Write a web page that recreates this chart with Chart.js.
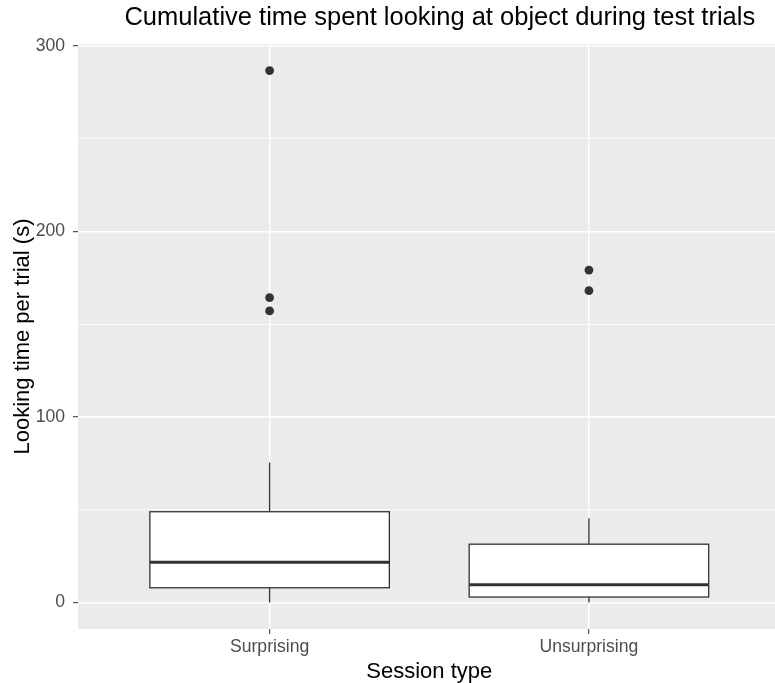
<!DOCTYPE html>
<html>
<head>
<meta charset="utf-8">
<script src="https://cdn.jsdelivr.net/npm/chart.js@4.4.0/dist/chart.umd.min.js"></script>
<style>
  html, body { margin: 0; padding: 0; background: #fff; overflow: hidden; }
  /* the original plot is cropped on the right, so the canvas runs past the window */
  #wrap { width: 806px; height: 683px; }
</style>
</head>
<body>
<div id="wrap"><canvas id="mycanvas"></canvas></div>
<script>
// session types and box statistics
var categories = ['Surprising', 'Unsurprising'];
var whiskerLow = [0, 0];
var q1 = [7.9, 2.9];
var median = [21.7, 9.5];
var q3 = [48.9, 31.4];
var whiskerHigh = [75.5, 45.4];
var outliersSurprising = [286.8, 164.4, 157.2];
var outliersUnsurprising = [179.2, 168.1];
var yTicks = [0, 50, 100, 150, 200, 250, 300];

var dataMin = 0, dataMax = 286.8;
var yPad = (dataMax - dataMin) * 0.05;

var outlierPoints = [];
outliersSurprising.forEach(function(v) { outlierPoints.push({x: 1, y: v}); });
outliersUnsurprising.forEach(function(v) { outlierPoints.push({x: 2, y: v}); });

var panelBg = {
  id: 'panelBg',
  beforeDraw: function(chart) {
    var a = chart.chartArea, c = chart.ctx;
    c.save();
    c.fillStyle = '#EBEBEB';
    c.fillRect(a.left, a.top, a.right - a.left, a.bottom - a.top);
    c.restore();
  }
};

// box + whiskers + median, placed with the chart's scales
var boxes = {
  id: 'boxes',
  beforeDatasetsDraw: function(chart) {
    var c = chart.ctx, x = chart.scales.x, y = chart.scales.y;
    c.save();
    c.strokeStyle = '#333333';
    for (var i = 0; i < categories.length; i++) {
      var cx = x.getPixelForValue(i + 1);
      var l = x.getPixelForValue(i + 1 - 0.375);
      var r = x.getPixelForValue(i + 1 + 0.375);
      var yq1 = y.getPixelForValue(q1[i]);
      var yq3 = y.getPixelForValue(q3[i]);
      c.lineWidth = 1.3;
      c.beginPath();
      c.moveTo(cx, y.getPixelForValue(whiskerHigh[i])); c.lineTo(cx, yq3);
      c.moveTo(cx, yq1); c.lineTo(cx, y.getPixelForValue(whiskerLow[i]));
      c.stroke();
      c.fillStyle = '#ffffff';
      c.fillRect(l, yq3, r - l, yq1 - yq3);
      c.strokeRect(l, yq3, r - l, yq1 - yq3);
      c.lineWidth = 3;
      c.beginPath();
      var ym = y.getPixelForValue(median[i]);
      c.moveTo(l, ym); c.lineTo(r, ym);
      c.stroke();
    }
    c.restore();
  }
};

// x title sits in the middle of the discrete range (1.5), like ggplot
var xTitle = {
  id: 'xTitle',
  afterDraw: function(chart) {
    var c = chart.ctx, x = chart.scales.x;
    c.save();
    c.fillStyle = '#000';
    c.font = '22px "Liberation Sans"';
    c.textAlign = 'center';
    c.textBaseline = 'middle';
    c.fillText('Session type', x.getPixelForValue(1.5), x.bottom - 11);
    c.restore();
  }
};

var ctx = document.getElementById('mycanvas');
var chart = new Chart(ctx, {
  type: 'scatter',
  data: {
    datasets: [{
      label: 'outliers',
      data: outlierPoints,
      backgroundColor: '#333333',
      borderWidth: 0,
      pointRadius: 4.4,
      pointHoverRadius: 4.4
    }]
  },
  plugins: [panelBg, boxes, xTitle],
  options: {
    responsive: true,
    maintainAspectRatio: false,
    animation: false,
    layout: { padding: 0 },
    plugins: {
      legend: { display: false },
      tooltip: { enabled: false },
      title: {
        display: true,
        fullSize: false,
        text: 'Cumulative time spent looking at object during test trials',
        color: '#000',
        font: { family: 'Liberation Sans', size: 25.5, weight: 'normal', lineHeight: 1.2 },
        padding: { top: 3, bottom: 10.4 }
      }
    },
    scales: {
      x: {
        type: 'linear',
        min: 0.4,
        max: 2.666,
        afterBuildTicks: function(s) { s.ticks = [{value: 1}, {value: 2}]; },
        afterFit: function(s) { s.height = 54; s.paddingLeft = 0; s.paddingRight = 0; },
        ticks: {
          color: '#4D4D4D',
          font: { family: 'Liberation Sans', size: 17.6 },
          padding: 3,
          maxRotation: 0,
          callback: function(v) { return categories[v - 1]; }
        },
        grid: { color: '#ffffff', lineWidth: 1.4, tickColor: '#333333', tickLength: 5, tickWidth: 1 },
        border: { display: false }
      },
      y: {
        min: dataMin - yPad,
        max: dataMax + yPad,
        afterBuildTicks: function(s) { s.ticks = yTicks.map(function(v) { return {value: v}; }); },
        afterFit: function(s) { s.width = 78; s.paddingTop = 0; s.paddingBottom = 0; },
        ticks: {
          color: '#4D4D4D',
          font: { family: 'Liberation Sans', size: 17.6 },
          padding: 8,
          callback: function(v) { return v % 100 === 0 ? v : ''; }
        },
        grid: {
          color: '#ffffff',
          lineWidth: function(c) { return c.tick && c.tick.value % 100 === 0 ? 1.4 : 0.7; },
          tickColor: function(c) { return c.tick && c.tick.value % 100 === 0 ? '#333333' : 'rgba(0,0,0,0)'; },
          tickLength: 5,
          tickWidth: 1
        },
        border: { display: false },
        title: {
          display: true,
          text: 'Looking time per trial (s)',
          color: '#000',
          font: { family: 'Liberation Sans', size: 22, lineHeight: 1 },
          padding: { top: 12, bottom: 0 }
        }
      }
    }
  }
});
</script>
</body>
</html>
